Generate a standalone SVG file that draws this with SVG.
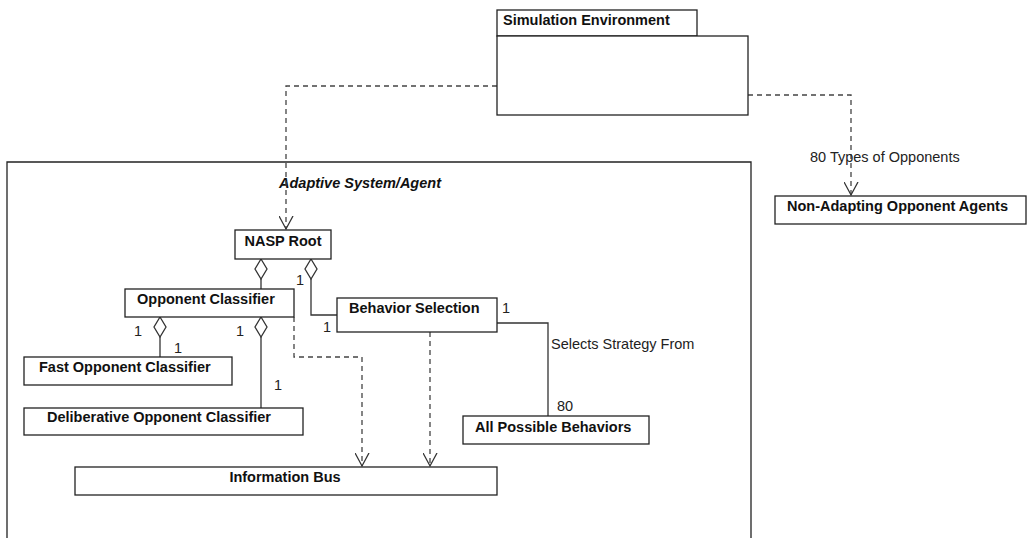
<svg xmlns="http://www.w3.org/2000/svg" width="1027" height="538" viewBox="0 0 1027 538">
<defs>
<style>
.box{fill:#fff;stroke:#222;stroke-width:1.3}
.frame{fill:none;stroke:#222;stroke-width:1.3}
.b{font-family:"Liberation Sans",Arial,sans-serif;font-weight:bold;font-size:14.5px;fill:#111}
.r{font-family:"Liberation Sans",Arial,sans-serif;font-size:14.5px;fill:#222}
.solid{fill:none;stroke:#333;stroke-width:1.3}
.dash{fill:none;stroke:#444;stroke-width:1.3;stroke-dasharray:5,4}
.dia{fill:#fff;stroke:#333;stroke-width:1.3}
</style>
<marker id="open" markerWidth="16" markerHeight="16" refX="7" refY="13" orient="0" markerUnits="userSpaceOnUse">
<path d="M0,0 L7,13 L14,0" fill="none" stroke="#333" stroke-width="1.3"/>
</marker>
</defs>

<g id="frame-adaptive">
<path class="frame" d="M7,540 V162 H751 V540"/>
<text class="b" font-style="italic" x="279" y="188">Adaptive System/Agent</text>
</g>

<g id="connectors">
<path class="dash" d="M497,86 H286 V229" marker-end="url(#open)"/>
<path class="dash" d="M748,95 H851 V195" marker-end="url(#open)"/>
<path class="dash" d="M294,317 V357 H362 V466" marker-end="url(#open)"/>
<path class="dash" d="M430,332 V466" marker-end="url(#open)"/>
<path class="solid" d="M261,279 V289"/>
<path class="solid" d="M311,279 V315 H337"/>
<path class="solid" d="M497,323 H548 V416"/>
<path class="solid" d="M160,337 V357"/>
<path class="solid" d="M261,337 V408"/>
<path class="dia" d="M261,259 L267,269 L261,279 L255,269 Z"/>
<path class="dia" d="M311,259 L317,269 L311,279 L305,269 Z"/>
<path class="dia" d="M160,317 L166,327 L160,337 L154,327 Z"/>
<path class="dia" d="M261,317 L267,327 L261,337 L255,327 Z"/>
<text class="r" x="810" y="162">80 Types of Opponents</text>
<text class="r" x="296" y="285">1</text>
<text class="r" x="323" y="332">1</text>
<text class="r" x="502" y="313">1</text>
<text class="r" x="551" y="349">Selects Strategy From</text>
<text class="r" x="557" y="411">80</text>
<text class="r" x="134" y="336">1</text>
<text class="r" x="236" y="336">1</text>
<text class="r" x="174" y="353">1</text>
<text class="r" x="274" y="390">1</text>
</g>

<g id="node-sim-env">
<rect class="box" x="497" y="10" width="200" height="26"/>
<rect class="box" x="497" y="36" width="251" height="79"/>
<text class="b" x="503" y="25">Simulation Environment</text>
</g>

<g id="node-non-adapting">
<rect class="box" x="775" y="196" width="251" height="28"/>
<text class="b" x="787" y="211">Non-Adapting Opponent Agents</text>
</g>

<g id="node-nasp-root">
<rect class="box" x="235" y="230" width="96" height="29"/>
<text class="b" x="283" y="246" text-anchor="middle">NASP Root</text>
</g>

<g id="node-opponent-classifier">
<rect class="box" x="125" y="289" width="169" height="28"/>
<text class="b" x="137" y="304">Opponent Classifier</text>
</g>

<g id="node-behavior-selection">
<rect class="box" x="337" y="298" width="160" height="34"/>
<text class="b" x="349" y="313">Behavior Selection</text>
</g>

<g id="node-fast-classifier">
<rect class="box" x="24" y="357" width="208" height="28"/>
<text class="b" x="39" y="372">Fast Opponent Classifier</text>
</g>

<g id="node-deliberative-classifier">
<rect class="box" x="24" y="408" width="279" height="27"/>
<text class="b" x="47" y="422">Deliberative Opponent Classifier</text>
</g>

<g id="node-all-behaviors">
<rect class="box" x="463" y="416" width="186" height="28"/>
<text class="b" x="475" y="432">All Possible Behaviors</text>
</g>

<g id="node-information-bus">
<rect class="box" x="75" y="467" width="422" height="28"/>
<text class="b" x="285" y="482" text-anchor="middle">Information Bus</text>
</g>
</svg>
